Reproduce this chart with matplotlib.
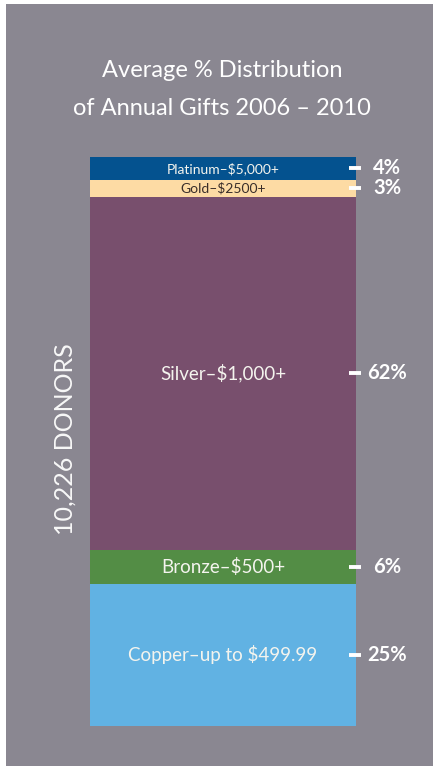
#!/usr/bin/env python

import matplotlib as mpl
mpl.use('Agg')
from matplotlib import pyplot as plt
from matplotlib.patches import Rectangle
import matplotlib.transforms as mtransforms

# Data
tiers = ['Platinum', 'Gold', 'Silver', 'Bronze', 'Copper']
labels = ['Platinum\u2013$5,000+', 'Gold\u2013$2500+', 'Silver\u2013$1,000+',
          'Bronze\u2013$500+', 'Copper\u2013up to $499.99']
pct = [4, 3, 62, 6, 25]
title = 'Average % Distribution\nof Annual Gifts 2006 \u2013 2010'
donors = '10,226 DONORS'

colors = ['#04528f', '#fddba4', '#784f6d', '#538d45', '#61b2e3']
text_colors = ['#f4f4ee', '#3a2e2a', '#f4f4ee', '#f4f4ee', '#f4f4ee']
label_sizes = [10, 10, 13.5, 13.5, 13.5]
bg = '#8a8791'

plt.rcParams['font.family'] = ['Lato', 'DejaVu Sans']

W, H = 433, 766
fig = plt.figure(figsize=(W / 100, H / 100), dpi=100, facecolor='white')

# gray panel
fig.patches.append(Rectangle((6 / W, 0), 1 - 6 / W, (H - 4) / H,
                             transform=fig.transFigure, facecolor=bg,
                             edgecolor='none', zorder=-5))

fig.text(222 / W, 1 - 89.5 / H, title, ha='center', va='center',
         color='white', fontsize=17, linespacing=2.05)

fig.text(65 / W, 1 - 439 / H, donors, ha='center', va='center',
         rotation=90, color='#f8f8f8', fontsize=18)

# stacked bar axes
x0, x1, y0, y1 = 90, 356, 157, 726
ax = fig.add_axes([x0 / W, 1 - y1 / H, (x1 - x0) / W, (y1 - y0) / H])
ax.set_xlim(-0.5, 0.5)
ax.set_ylim(100, 0)
ax.axis('off')

trans = mtransforms.blended_transform_factory(ax.transAxes, ax.transData)
bottom = 0
for i in range(len(pct)):
    ax.bar(0, pct[i], bottom=bottom, width=1, color=colors[i], edgecolor='none')
    mid = bottom + pct[i] / 2
    ax.text(0, mid, labels[i], ha='center', va='center',
            color=text_colors[i], fontsize=label_sizes[i])
    ax.plot([0.975, 1.017], [mid, mid], color='white', lw=2.8,
            transform=trans, clip_on=False, solid_capstyle='butt')
    ax.text(1.118, mid, f'{pct[i]}%', ha='center', va='center',
            color='white', fontsize=14.5, fontweight='bold',
            transform=trans, clip_on=False)
    bottom += pct[i]

plt.savefig('out.png', dpi=100, facecolor=fig.get_facecolor())
plt.close()
